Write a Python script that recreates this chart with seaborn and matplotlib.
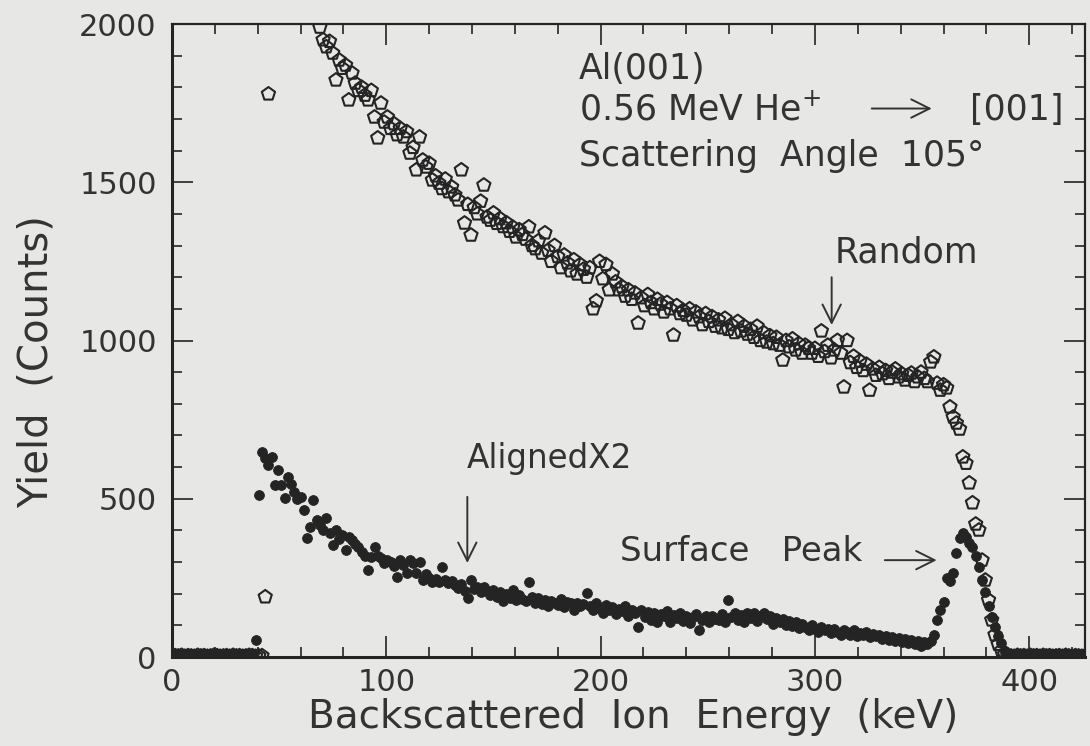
import numpy as np
import pandas as pd
import matplotlib
matplotlib.use("Agg")
import matplotlib.pyplot as plt
import seaborn as sns
from matplotlib.ticker import MultipleLocator

# RBS spectrum of Al(001): counts per 1.5 keV channel, starting at 0 keV.
# NaN marks channels whose random-spectrum counts run above the plotted range.
CHANNEL_KEV = 1.5
nan = np.nan

random_counts = [
    2, 4, 3, 5, 2, 4, 3, 2, 5, 3,
    4, 2, 3, 5, 4, 2, 3, 4, 2, 5,
    3, 4, 2, 3, 5, 4, 2, 3, 4, 190,
    1779, nan, nan, nan, nan, nan, nan, nan, nan, nan,
    nan, nan, nan, nan, nan, nan, 1990, 1950, 1928, 1945,
    1908, 1823, 1886, 1860, 1870, 1760, 1845, 1813, 1790, 1800,
    1775, 1760, 1790, 1706, 1640, 1750, 1690, 1706, 1670, 1685,
    1650, 1670, 1643, 1660, 1592, 1610, 1539, 1643, 1570, 1548,
    1560, 1507, 1520, 1497, 1480, 1510, 1470, 1485, 1460, 1444,
    1539, 1371, 1430, 1333, 1420, 1400, 1440, 1491, 1390, 1380,
    1403, 1370, 1385, 1360, 1372, 1345, 1358, 1327, 1350, 1335,
    1320, 1359, 1300, 1290, 1315, 1276, 1340, 1285, 1250, 1300,
    1265, 1230, 1270, 1245, 1220, 1255, 1210, 1240, 1225, 1200,
    1230, 1100, 1125, 1250, 1195, 1240, 1160, 1210, 1185, 1160,
    1170, 1140, 1160, 1130, 1150, 1055, 1135, 1110, 1145, 1120,
    1100, 1130, 1115, 1090, 1120, 1100, 1017, 1110, 1085, 1095,
    1080, 1100, 1065, 1090, 1075, 1050, 1085, 1060, 1075, 1045,
    1065, 1040, 1070, 1035, 1050, 1025, 1060, 1030, 1045, 1020,
    1035, 1010, 1045, 1000, 1025, 995, 1015, 990, 1010, 985,
    938, 1000, 980, 1005, 970, 990, 960, 985, 975, 960,
    975, 950, 1030, 965, 985, 945, 970, 1000, 960, 853,
    1000, 930, 950, 915, 935, 905, 925, 843, 910, 890,
    915, 895, 905, 880, 900, 910, 885, 895, 875, 890,
    897, 870, 885, 900, 880, 870, 932, 948, 865, 843,
    860, 850, 790, 758, 739, 720, 632, 612, 550, 487,
    420, 401, 306, 243, 180, 117, 70, 40, 20, 8,
    4, 3, 2, 5, 3, 4, 2, 5, 3, 4,
    2, 5, 3, 4, 2, 3, 4, 2, 5, 3,
    2, 4, 3, 2, 3,
]

aligned_x2_counts = [
    5, 6, 4, 6, 5, 7, 4, 6, 5, 6,
    4, 6, 5, 7, 5, 6, 4, 6, 5, 7,
    5, 6, 4, 6, 5, 7, 55, 512, 649, 628,
    608, 633, 543, 590, 543, 502, 570, 548, 522, 498,
    506, 464, 375, 412, 496, 433, 418, 401, 438, 392,
    354, 401, 372, 385, 338, 380, 370, 356, 348, 333,
    318, 275, 317, 348, 320, 312, 298, 305, 301, 286,
    254, 306, 290, 264, 306, 298, 264, 300, 243, 262,
    250, 238, 248, 236, 285, 242, 233, 240, 228, 217,
    230, 210, 185, 243, 214, 222, 205, 222, 210, 196,
    212, 190, 205, 178, 200, 186, 212, 180, 195, 184,
    176, 238, 190, 170, 185, 168, 180, 160, 178, 170,
    165, 182, 158, 175, 170, 150, 172, 160, 168, 202,
    162, 150, 170, 155, 140, 165, 150, 158, 135, 152,
    145, 160, 130, 148, 140, 95, 150, 125, 142, 118,
    140, 112, 135, 128, 145, 110, 132, 122, 140, 115,
    130, 108, 125, 135, 85, 118, 128, 110, 130, 120,
    118, 135, 110, 180, 125, 140, 118, 132, 110, 138,
    122, 140, 115, 130, 138, 120, 128, 105, 124, 112,
    120, 100, 115, 98, 110, 92, 104, 95, 86, 100,
    90, 80, 96, 84, 90, 76, 88, 80, 70, 84,
    78, 70, 84, 66, 76, 68, 80, 62, 72, 66,
    70, 58, 66, 55, 64, 52, 60, 48, 58, 45,
    55, 40, 50, 35, 48, 40, 52, 70, 118, 148,
    175, 250, 240, 265, 330, 375, 392, 380, 360, 348,
    320, 285, 243, 205, 160, 125, 95, 65, 44, 20,
    8, 6, 7, 5, 6, 4, 8, 6, 5, 7,
    6, 5, 8, 6, 4, 7, 5, 6, 9, 6,
    5, 7, 6, 6, 5,
]

energy_kev = np.arange(len(random_counts)) * CHANNEL_KEV
spectra = pd.DataFrame({
    "energy": energy_kev,
    "random": random_counts,
    "aligned": aligned_x2_counts,
})

x_ticks = [0, 100, 200, 300, 400]
y_ticks = [0, 500, 1000, 1500, 2000]

INK = "#242424"
TEXT = "#333333"
PAPER = "#e7e7e5"

sns.set_theme(style="ticks")
plt.rcParams["font.family"] = ["DejaVu Sans"]
plt.rcParams["mathtext.fontset"] = "dejavusans"

fig = plt.figure(figsize=(10.9, 7.46), dpi=100, facecolor=PAPER)
ax = fig.add_axes([0.1578, 0.1193, 0.8376, 0.8485])
ax.set_facecolor(PAPER)

sns.scatterplot(data=spectra, x="energy", y="aligned", ax=ax, marker="o",
                s=50, color=INK, edgecolor=INK, linewidth=0.6, legend=False,
                zorder=3)
sns.scatterplot(data=spectra, x="energy", y="random", ax=ax, marker="p",
                s=100, facecolor="none", edgecolor=INK, linewidth=1.5,
                legend=False, zorder=4)

ax.set_xlim(0, 426)
ax.set_ylim(0, 2000)
ax.set_xticks(x_ticks)
ax.set_yticks(y_ticks)
ax.xaxis.set_minor_locator(MultipleLocator(20))
ax.yaxis.set_minor_locator(MultipleLocator(100))
ax.tick_params(which="both", direction="in", top=True, right=True,
               color=INK, width=1.2, labelcolor=TEXT, labelsize=22)
ax.tick_params(which="major", length=15)
ax.tick_params(which="minor", length=7.5)
ax.tick_params(axis="x", which="major", pad=8)
ax.tick_params(axis="y", which="major", pad=11)
for side, lw in (("left", 2.2), ("bottom", 2.2), ("top", 1.6), ("right", 1.6)):
    ax.spines[side].set_color(INK)
    ax.spines[side].set_linewidth(lw)
    ax.spines[side].set_visible(True)

ax.set_xlabel("Backscattered  Ion  Energy  (keV)", fontsize=28, color=TEXT)
ax.set_ylabel("Yield  (Counts)", fontsize=29, color=TEXT)
ax.xaxis.set_label_coords(0.505, -0.064)
ax.yaxis.set_label_coords(-0.126, 0.466)

txt = dict(color=TEXT, fontsize=25, ha="left", va="baseline")
ax.text(190, 1826, "Al(001)", **txt)
ax.text(190, 1697, "0.56 MeV He$^{+}$", **txt)
ax.text(372.3, 1697, "[001]", **txt)
ax.text(190, 1550, "Scattering  Angle  105°", **txt)
ax.text(309.3, 1245, "Random", **txt)
ax.text(137.6, 597, "AlignedX2", **dict(txt, fontsize=23.5))
ax.text(209, 303, "Surface   Peak", **dict(txt, fontsize=24.5))

arrow = dict(arrowstyle="->,head_length=1.1,head_width=0.55",
             color=TEXT, lw=1.4, shrinkA=0, shrinkB=0)
ax.annotate("", xy=(354.5, 1733), xytext=(326.5, 1733), arrowprops=arrow)
ax.annotate("", xy=(307.8, 1049), xytext=(307.8, 1200), arrowprops=arrow)
ax.annotate("", xy=(137.8, 297), xytext=(137.8, 506), arrowprops=arrow)
ax.annotate("", xy=(356.8, 306), xytext=(332.6, 306), arrowprops=arrow)

fig.savefig("out.png", dpi=100, facecolor=PAPER)
